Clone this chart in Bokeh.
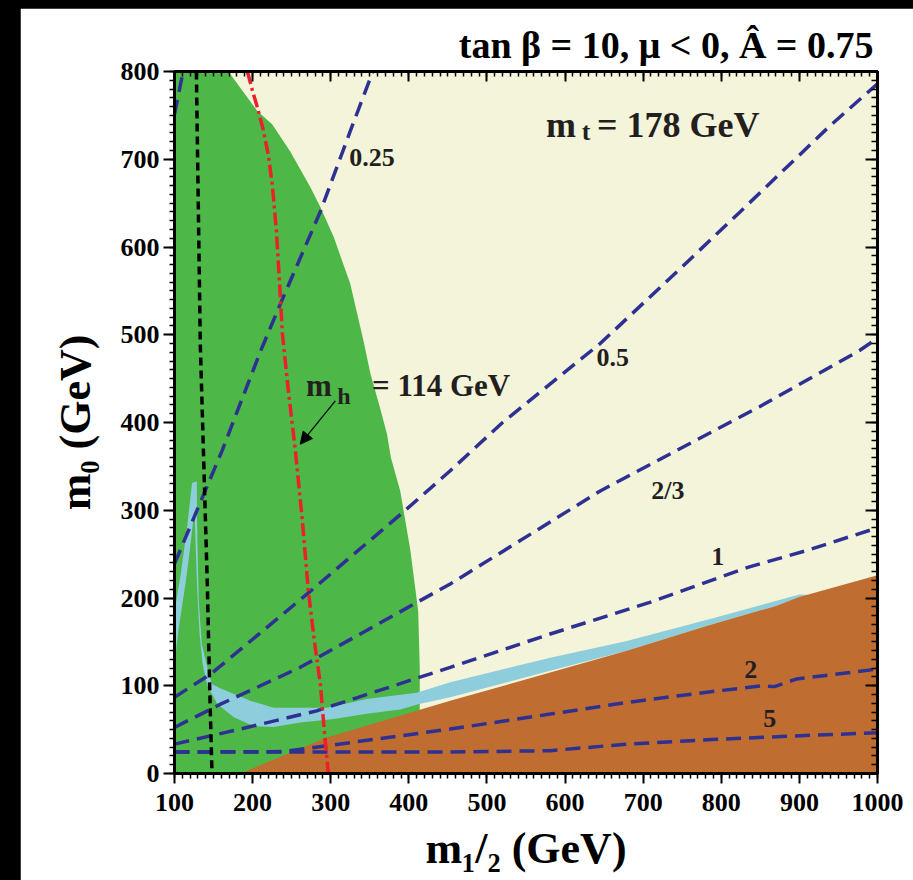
import math
from bokeh.plotting import figure
from bokeh.models import (Range1d, LinearAxis, SingleIntervalTicker, Label, Arrow,
                          NormalHead, CustomJSTickFormatter, Title)
from bokeh.layouts import column
from bokeh.embed import file_html
from bokeh.resources import INLINE

# ---------------- data ----------------
green_x = [100, 169, 206, 225, 248, 274, 287, 304, 325, 342, 351, 363, 372, 377, 389, 402, 412, 414, 414, 100]
green_y = [800, 800, 755, 740, 709, 668, 645, 611, 558, 493, 455, 417, 387, 360, 322, 254, 185, 120, 0, 0]

brown_x = [184, 295, 412, 453, 581, 679, 781, 870, 900, 1000, 1000]
brown_y = [0, 41, 72, 83, 115, 140, 168, 191, 201, 226, 0]

strip_x = [100, 108, 116, 122.5, 128.5, 129, 131, 135, 142, 148, 159, 197, 227, 295, 346, 410, 453,
           581, 679, 794, 900, 921, 900, 870, 781, 679, 581, 453, 412, 389, 346, 304, 261, 227, 201,
           176, 155, 142, 136, 132, 129, 127, 125.5, 119, 114, 105.5, 100]
strip_y = [185, 227, 280, 331, 333, 280, 197, 147, 121, 102, 97, 83, 75, 75, 85, 92, 104,
           132, 151, 178, 204, 203, 200, 191, 168, 140, 117, 87, 79, 73, 68, 62, 58, 53, 54,
           64, 79, 100, 125, 160, 210, 260, 300, 250, 216, 166, 125]

c010_x = [100, 111]
c010_y = [751, 800]
c025_x = [100, 161, 210, 235.5, 287, 325, 354]
c025_y = [239, 368, 481, 535, 641, 732, 800]
c050_x = [100, 146, 265, 393, 453, 520, 645, 747, 824, 939, 1000]
c050_y = [87, 113, 201, 298, 345, 400, 490, 575, 640, 738, 786]
c067_x = [100, 159, 261, 414.5, 453, 645, 747, 849, 977, 1000]
c067_y = [52.5, 79, 121, 197, 216, 322, 370, 418, 482, 496]
c100_x = [100, 184, 282, 453, 581, 708.5, 815, 836, 909, 1000]
c100_y = [33.5, 50.6, 71.4, 121, 159, 195, 229, 235.5, 254, 280]
c200_x = [100, 240, 453, 581, 679, 794, 853, 868, 896, 1000]
c200_y = [24.4, 25, 50.6, 67.7, 81, 94, 100, 99, 107.6, 119]
c500_x = [100, 453, 581, 679, 794, 895, 1000]
c500_y = [24.4, 24.4, 26, 33.5, 39, 42.8, 46.5]

chargino_x = [128, 133, 137, 142, 145, 148]
chargino_y = [800, 490, 368, 216, 100, 0]

higgs_x = [193.3, 199.7, 206.1, 213.8, 220.2, 225.3, 230.4, 234.3, 238.1, 245.7, 254.7,
           263.7, 271.3, 279.0, 286.7, 291.8, 296.9]
higgs_y = [800, 778.6, 759.2, 732.9, 704.5, 670.3, 619.0, 562.0, 501.6, 436.6, 368.3,
           288.0, 208.2, 151.2, 102.2, 48.7, 0]

contour_text = ["0.25", "0.5", "2/3", "1", "2", "5"]
contour_lx = [353, 661, 731.5, 795.5, 837.6, 862]
contour_ly = [701.6, 473.7, 322, 247, 119, 62.3]

title_text = "tan \u03b2 = 10, \u03bc < 0, \u00c2 = 0.75"
xlabel_text = "m\u2081/\u2082 (GeV)"
ylabel_text = "m\u2080 (GeV)"

# ---------------- style ----------------
GREEN = "#4db848"
CREAM = "#f4f4da"
BROWN = "#bf6d30"
LBLUE = "#8ecddc"
DBLUE = "#2e3192"
RED = "#ec2029"
INK = "#231f20"
FONT = "Liberation Serif"

p = figure(width=893, height=872, x_range=Range1d(100, 1000), y_range=Range1d(0, 800),
           output_backend="svg", toolbar_location=None,
           min_border_left=154, min_border_right=36, min_border_top=63, min_border_bottom=107,
           background_fill_color=CREAM, border_fill_color="white",
           outline_line_color="black", outline_line_width=3, margin=(8, 0, 0, 20))
p.grid.visible = False

p.title = Title(text=title_text, align="right", offset=4, standoff=11,
                text_font=FONT, text_font_style="bold", text_font_size="38px",
                text_color="black")

bottom_axis = p.below[0]
left_axis = p.left[0]
top_axis = LinearAxis()
right_axis = LinearAxis()
p.add_layout(top_axis, "above")
p.add_layout(right_axis, "right")


def style_axis(ax, tin, tout, show_labels):
    ax.ticker = SingleIntervalTicker(interval=100, num_minor_ticks=10)
    ax.axis_line_width = 3
    ax.axis_line_color = "black"
    ax.major_tick_line_width = 2
    ax.minor_tick_line_width = 1.5
    ax.major_tick_in = tin
    ax.major_tick_out = tout
    ax.minor_tick_in = tin // 2
    ax.minor_tick_out = tout // 2
    ax.major_label_text_font = FONT
    ax.major_label_text_font_style = "bold"
    ax.major_label_text_font_size = "26px"
    ax.major_label_text_color = "black"
    ax.axis_label_text_font = FONT
    ax.axis_label_text_font_style = "bold"
    ax.axis_label_text_font_size = "44px"
    ax.axis_label_text_color = "black"
    if not show_labels:
        ax.formatter = CustomJSTickFormatter(code="return ''")
        ax.major_label_standoff = 0
        ax.major_label_text_font_size = "1px"


style_axis(bottom_axis, 0, 10, True)
style_axis(left_axis, 0, 11, True)
style_axis(top_axis, 10, 0, False)
style_axis(right_axis, 12, 0, False)
bottom_axis.major_label_standoff = 10
left_axis.major_label_standoff = 4
bottom_axis.axis_label = xlabel_text
left_axis.axis_label = ylabel_text
bottom_axis.axis_label_standoff = 10
left_axis.axis_label_standoff = 18

# regions
p.patch(green_x, green_y, fill_color=GREEN, line_color=None)
p.patch(strip_x, strip_y, fill_color=LBLUE, line_color=None)
p.patch(brown_x, brown_y, fill_color=BROWN, line_color=None)

# contours
for xs, ys in [(c010_x, c010_y), (c025_x, c025_y), (c050_x, c050_y), (c067_x, c067_y),
               (c100_x, c100_y), (c200_x, c200_y), (c500_x, c500_y)]:
    p.line(xs, ys, line_color=DBLUE, line_width=3.5, line_dash="15 8")

p.line(chargino_x, chargino_y, line_color="black", line_width=3.5, line_dash="8 5")
p.line(higgs_x, higgs_y, line_color=RED, line_width=3.5, line_dash="13 4 3 4")

for t, lx, ly in zip(contour_text, contour_lx, contour_ly):
    p.add_layout(Label(x=lx, y=ly, text=t, text_font=FONT, text_font_style="bold",
                       text_font_size="26px", text_color=INK, text_align="center",
                       text_baseline="middle"))


def lab(x, y, text, size, align="left", color=INK):
    p.add_layout(Label(x=x, y=y, text=text, text_font=FONT, text_font_style="bold",
                       text_font_size=size, text_color=color, text_align=align,
                       text_baseline="alphabetic"))


# m_t label
lab(575.6, 739.3, "m", "36px")
lab(621.5, 731.3, "t", "26px")
lab(640.8, 739.3, "= 178 GeV", "36px")

# m_h label
lab(268.4, 441.8, "m", "31px")
lab(308.3, 430.4, "h", "24px")
lab(352.9, 441.8, "= 114 GeV", "31px")

p.add_layout(Arrow(end=NormalHead(size=12, fill_color="black", line_color="black"),
                   x_start=305.9, y_start=424.7, x_end=261, y_end=375.3,
                   line_color="black", line_width=1.2))

layout = column(p, styles={"background-color": "black"})
open("out.html", "w").write(file_html(layout, INLINE))
